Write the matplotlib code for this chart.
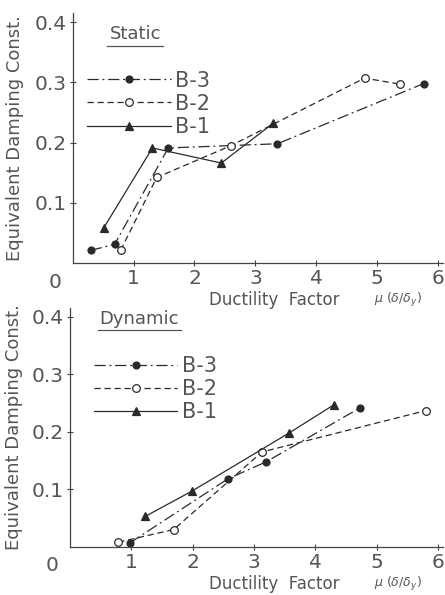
import matplotlib
matplotlib.use("Agg")
import matplotlib.pyplot as plt
from matplotlib.lines import Line2D

# static test results
st_b3_x = [0.30, 0.69, 1.57, 3.36, 5.76]
st_b3_y = [0.021, 0.031, 0.191, 0.198, 0.298]
st_b2_x = [0.79, 1.38, 2.60, 4.79, 5.37]
st_b2_y = [0.021, 0.142, 0.195, 0.307, 0.297]
st_b1_x = [0.51, 1.31, 2.44, 3.29]
st_b1_y = [0.058, 0.191, 0.166, 0.232]

# dynamic test results
dy_b3_x = [0.98, 2.57, 3.20, 4.73]
dy_b3_y = [0.007, 0.118, 0.148, 0.242]
dy_b2_x = [0.79, 1.69, 3.13, 5.80]
dy_b2_y = [0.008, 0.030, 0.165, 0.237]
dy_b1_x = [1.23, 1.99, 3.57, 4.30]
dy_b1_y = [0.053, 0.097, 0.198, 0.247]

x_ticks = [1, 2, 3, 4, 5, 6]
y_ticks = [0.1, 0.2, 0.3, 0.4]

INK = "#2a2a2a"
TXT = "#555555"
plt.rcParams['font.family'] = ['DejaVu Sans']

STYLE = {
    'B-3': dict(ls=(0, (9, 3, 1.5, 3)), marker='o', mfc=INK, mec=INK, ms=5),
    'B-2': dict(ls=(0, (5, 3)), marker='o', mfc='white', mec=INK, ms=5.5),
    'B-1': dict(ls='-', marker='^', mfc=INK, mec=INK, ms=5.5),
}


def setup(ax):
    ax.set_xlim(0, 6.08)
    ax.set_ylim(0, 0.415)
    for s in ['top', 'right']:
        ax.spines[s].set_visible(False)
    for s in ['left', 'bottom']:
        ax.spines[s].set_color("#444444")
        ax.spines[s].set_linewidth(0.9)
    ax.set_xticks(x_ticks)
    ax.set_yticks(y_ticks)
    ax.set_xticklabels([str(v) for v in x_ticks])
    ax.set_yticklabels(["0.1", "0.2", "0.3", "0.4"])
    ax.tick_params(direction='inout', length=5, width=0.8, color="#444444",
                   labelsize=14.5, labelcolor=TXT, pad=2)
    ax.patch.set_alpha(0)


def draw(ax, data):
    handles = []
    for name, xs, ys in data:
        st = STYLE[name]
        ax.plot(xs, ys, color=INK, lw=0.9, ls=st['ls'], marker=st['marker'],
                mfc=st['mfc'], mec=st['mec'], ms=st['ms'], mew=0.9)
        handles.append(Line2D([], [], color=INK, lw=0.9, ls=st['ls'], marker=st['marker'],
                              mfc=st['mfc'], mec=st['mec'], ms=st['ms'], mew=0.9))
    return handles


fig = plt.figure(figsize=(4.45, 5.95), dpi=100)
ax1 = fig.add_axes([0.163, 0.558, 0.833, 0.42])
ax2 = fig.add_axes([0.157, 0.081, 0.839, 0.401])

panels = [
    (ax1, "Static", [('B-3', st_b3_x, st_b3_y), ('B-2', st_b2_x, st_b2_y), ('B-1', st_b1_x, st_b1_y)],
     (0.04, 0.77), (0.10, 0.915)),
    (ax2, "Dynamic", [('B-3', dy_b3_x, dy_b3_y), ('B-2', dy_b2_x, dy_b2_y), ('B-1', dy_b1_x, dy_b1_y)],
     (0.065, 0.80), (0.08, 0.955)),
]

titles = []
for ax, title, data, leg_pos, t_pos in panels:
    setup(ax)
    h = draw(ax, data)
    ax.legend(h, ['B-3', 'B-2', 'B-1'], loc='upper left', bbox_to_anchor=leg_pos,
              frameon=False, handlelength=4.0, handletextpad=0.2, labelspacing=0.15,
              fontsize=15, labelcolor=TXT, borderpad=0, borderaxespad=0)
    t = ax.text(t_pos[0], t_pos[1], title, transform=ax.transAxes, fontsize=13,
                color=TXT, ha='left', va='center')
    titles.append(t)
    ax.text(-0.03, -0.04, "0", transform=ax.transAxes, fontsize=14.5, color=TXT,
            ha='right', va='top')
    ax.set_ylabel("Equivalent Damping Const.", fontsize=13, color=TXT, labelpad=2)

ax1.yaxis.set_label_coords(-0.13, 0.5)
ax2.yaxis.set_label_coords(-0.125, 0.5)

# x labels sit at the lower right, the upper one tucked under the next panel
for yy, va in [(0.496, 'center'), (0.004, 'bottom')]:
    fig.text(0.47, yy, "Ductility  Factor", fontsize=12, color=TXT, ha='left', va=va)
    fig.text(0.84, yy, r"$\mu$ ($\delta/\delta_y$)", fontsize=9, color=TXT, ha='left', va=va)

# underline the panel titles
fig.canvas.draw()
r = fig.canvas.get_renderer()
for t in titles:
    bb = t.get_window_extent(r).transformed(fig.transFigure.inverted())
    fig.add_artist(Line2D([bb.x0 - 0.005, bb.x1 + 0.005], [bb.y0 - 0.004, bb.y0 - 0.004],
                          transform=fig.transFigure, color=TXT, lw=0.9))

fig.savefig("out.png", dpi=100)
